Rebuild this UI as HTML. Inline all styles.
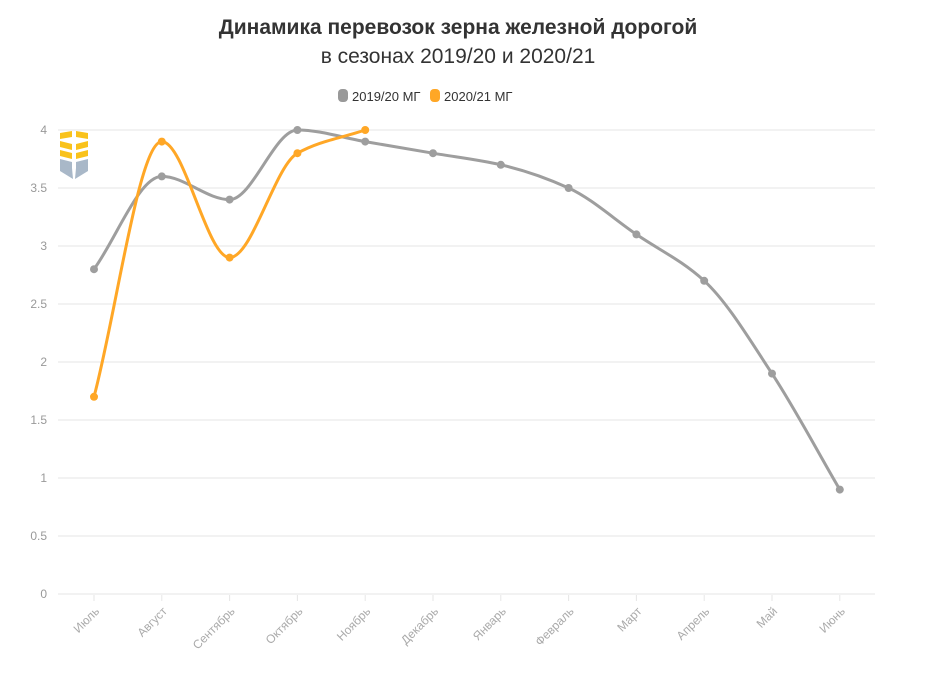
<!DOCTYPE html>
<html><head><meta charset="utf-8"><style>
body{margin:0;background:#fff;width:930px;height:679px;overflow:hidden;font-family:"Liberation Sans",sans-serif}
</style></head><body>
<svg id="s" width="930" height="679" xmlns="http://www.w3.org/2000/svg" font-family="Liberation Sans, sans-serif">
<text x="458" y="34" text-anchor="middle" font-size="21" font-weight="bold" fill="#333">Динамика перевозок зерна железной дорогой</text>
<text x="458" y="63" text-anchor="middle" font-size="21" fill="#333">в сезонах 2019/20 и 2020/21</text>
<rect x="338" y="89" width="10" height="13" rx="4" fill="#999"/>
<text x="352" y="101" font-size="13" fill="#333">2019/20 МГ</text>
<rect x="430" y="89" width="10" height="13" rx="4" fill="#ffa726"/>
<text x="444" y="101" font-size="13" fill="#333">2020/21 МГ</text>
<g id="grid"></g>
<g transform="translate(60,131) scale(2,1)">
<polygon points="0,2 6,0 6,6 0,8" fill="#f9c21b"/><polygon points="8,0 14,2 14,8 8,6" fill="#f9c21b"/>
<polygon points="0,10 6,13 6,19 0,16" fill="#f9c21b"/><polygon points="8,13 14,10 14,16 8,19" fill="#f9c21b"/>
<polygon points="0,19 6,22 6,28 0,25" fill="#f9c21b"/><polygon points="8,22 14,19 14,25 8,28" fill="#f9c21b"/>
<polygon points="0,28 6,31 6,37 6.5,48 0,40" fill="#a9b8c8"/><polygon points="8,31 14,28 14,40 7.5,48 8,37" fill="#a9b8c8"/>
</g>
<g id="plot"></g>
</svg>
<script>
var ns="http://www.w3.org/2000/svg",g=document.getElementById('grid'),p=document.getElementById('plot');
function el(t,a,par,txt){var e=document.createElementNS(ns,t);for(var k in a)e.setAttribute(k,a[k]);if(txt)e.textContent=txt;par.appendChild(e);return e;}
function Y(v){return 594-116*v;}function X(i){return 94+67.8*i;}
for(var v=0;v<=4;v+=0.5){var y=Y(v);el('line',{x1:58,x2:875,y1:y,y2:y,stroke:'#e6e6e6','stroke-width':1},g);
el('text',{x:47,y:y+4,'text-anchor':'end','font-size':12,fill:'#999'},g,String(v));}
var m=['Июль','Август','Сентябрь','Октябрь','Ноябрь','Декабрь','Январь','Февраль','Март','Апрель','Май','Июнь'];
for(var i=0;i<12;i++){var x=X(i);el('line',{x1:x,x2:x,y1:595,y2:601,stroke:'#e6e6e6'},g);
el('text',{x:x+6,y:612,'text-anchor':'end','font-size':12,fill:'#aaa',transform:'rotate(-45 '+(x+6)+' 612)'},g,m[i]);}
function path(d,c){var n=d.length,pts=d.map(function(v,i){return[X(i),Y(v)]});
var h=67.8,del=[],mm=[];for(var i=0;i<n-1;i++)del.push((pts[i+1][1]-pts[i][1])/h);
mm[0]=del[0];mm[n-1]=del[n-2];
for(var i=1;i<n-1;i++){mm[i]=(del[i-1]*del[i]<=0)?0:2/(1/del[i-1]+1/del[i]);}
var s='M'+pts[0];
for(var i=0;i<n-1;i++){var a=pts[i],b=pts[i+1];
s+=' C'+(a[0]+h/3)+','+(a[1]+mm[i]*h/3)+' '+(b[0]-h/3)+','+(b[1]-mm[i+1]*h/3)+' '+b;}
el('path',{d:s,fill:'none',stroke:c,'stroke-width':3},p);
pts.forEach(function(q){el('circle',{cx:q[0],cy:q[1],r:4,fill:c},p);});}
path([2.8,3.6,3.4,4.0,3.9,3.8,3.7,3.5,3.1,2.7,1.9,0.9],'#9e9e9e');
path([1.7,3.9,2.9,3.8,4.0],'#ffa726');
</script>
</body></html>
